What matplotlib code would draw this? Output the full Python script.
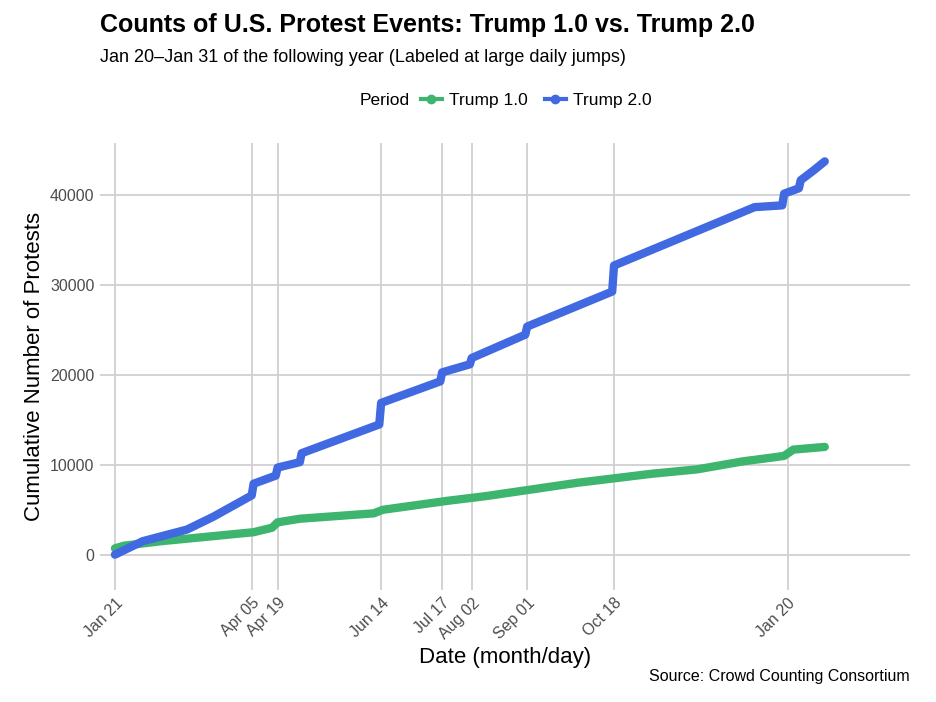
import matplotlib.pyplot as plt
from matplotlib.lines import Line2D
from matplotlib.offsetbox import HPacker

plt.rcParams["font.family"] = ["Liberation Sans", "DejaVu Sans"]

# days since Jan 21, cumulative protest counts
t2_days = [0, 15, 39, 53, 74, 75, 87, 88, 100, 101, 143, 144, 176, 177, 192, 193,
           222, 223, 269, 270, 346, 361, 362, 370, 371, 378, 384]
t2_vals = [0, 1500, 2800, 4200, 6600, 7900, 8800, 9700, 10300, 11300, 14500, 16900,
           19300, 20300, 21200, 21900, 24500, 25400, 29300, 32200, 38700, 38900,
           40200, 40800, 41700, 42800, 43800]
t1_days = [0, 5, 25, 50, 75, 85, 88, 100, 140, 145, 180, 200, 230, 250, 270, 290,
           315, 340, 355, 362, 367, 384]
t1_vals = [700, 1000, 1500, 2000, 2500, 3000, 3600, 4000, 4600, 5000, 6000, 6500,
           7400, 8000, 8500, 9000, 9500, 10400, 10800, 11000, 11700, 12000]
tick_days = [0, 74, 88, 144, 177, 193, 223, 270, 364]
tick_labels = ["Jan 21", "Apr 05", "Apr 19", "Jun 14", "Jul 17", "Aug 02",
               "Sep 01", "Oct 18", "Jan 20"]

green = "#3DB56E"
blue = "#4169E1"

fig = plt.figure(figsize=(9.36, 7.02), dpi=100)
ax = fig.add_axes([0.107, 0.16, 0.865, 0.637])

ax.plot(t1_days, t1_vals, color=green, lw=6, solid_capstyle="round", solid_joinstyle="round")
ax.plot(t2_days, t2_vals, color=blue, lw=2)
ax.plot(t2_days, t2_vals, color=blue, lw=6, solid_capstyle="round",
        solid_joinstyle="round", markevery=[0])
# redraw the jumps thin by masking: draw thick segments only between continuous parts
ax.set_xlim(-8, 430)
ax.set_ylim(-3900, 45900)
ax.set_xticks(tick_days)
ax.set_xticklabels(tick_labels, rotation=45, ha="right", rotation_mode="anchor")
ax.set_yticks([0, 10000, 20000, 30000, 40000])
ax.grid(True, color="#d0d0d0", lw=1.3)
ax.set_axisbelow(True)
for s in ax.spines.values():
    s.set_visible(False)
ax.tick_params(length=0, labelsize=11.5, colors="#4d4d4d", pad=4)
ax.set_xlabel("Date (month/day)", fontsize=16, labelpad=4)
ax.set_ylabel("Cumulative Number of Protests", fontsize=16)

fig.text(0.107, 0.965, "Counts of U.S. Protest Events: Trump 1.0 vs. Trump 2.0",
         fontsize=18, fontweight="bold", va="center")
fig.text(0.107, 0.918, "Jan 20\u2013Jan 31 of the following year (Labeled at large daily jumps)",
         fontsize=13, va="center")
fig.text(0.972, 0.03, "Source: Crowd Counting Consortium", fontsize=11.5, ha="right")

handles = [Line2D([], [], color=green, lw=3, marker="o", ms=6),
           Line2D([], [], color=blue, lw=3, marker="o", ms=6)]
fig.legend(handles, ["Trump 1.0", "Trump 2.0"], title="Period", ncol=2, frameon=False,
           loc="center", bbox_to_anchor=(0.54, 0.857), fontsize=12.5, title_fontsize=12.5,
           handlelength=1.2, columnspacing=1.0, handletextpad=0.4)
box = fig.legends[0]._legend_box
box._children = [HPacker(children=box._children, align="center", pad=0, sep=8)]

fig.savefig("out.png", dpi=100)
